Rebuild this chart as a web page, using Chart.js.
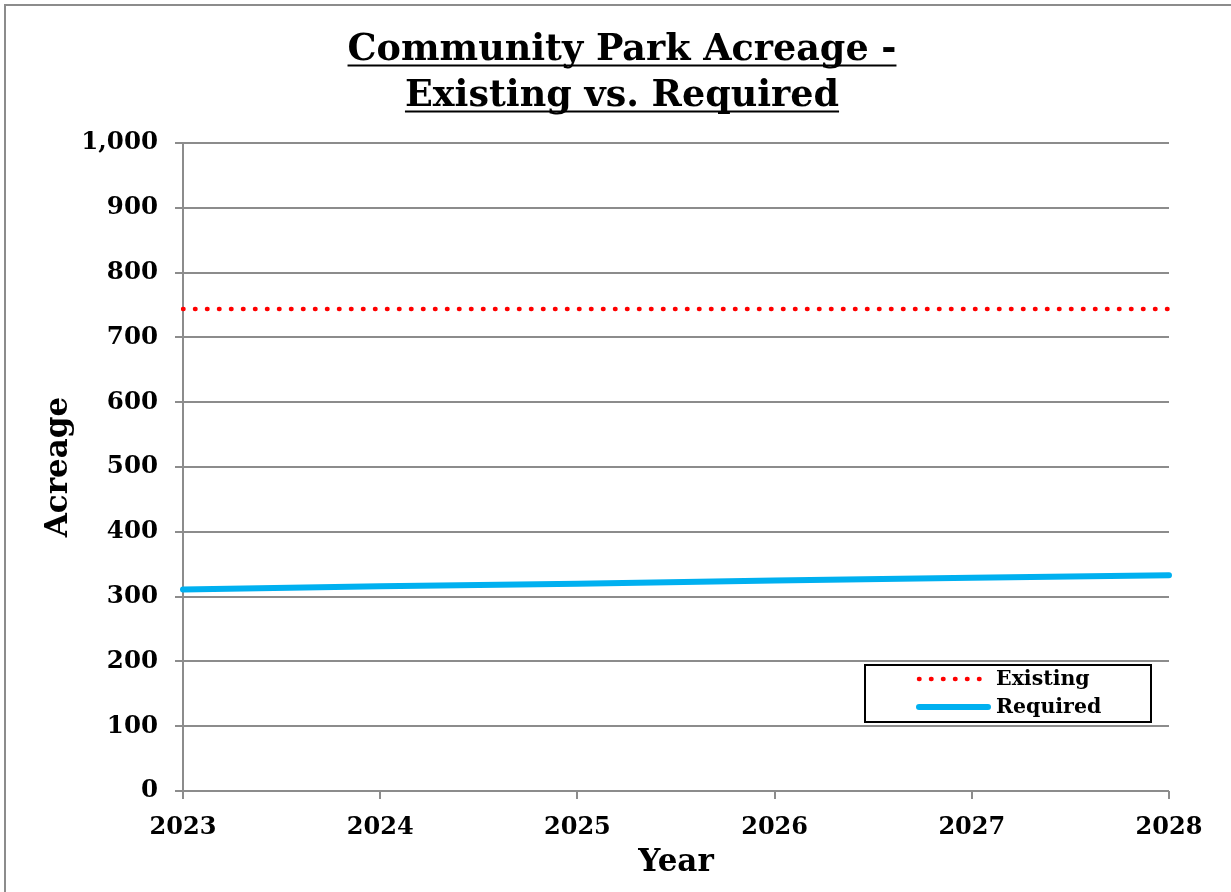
<!DOCTYPE html>
<html>
<head>
<meta charset="utf-8">
<title>Community Park Acreage</title>
<script src="https://cdn.jsdelivr.net/npm/chart.js@4.4.1/dist/chart.umd.min.js"></script>
<style>
  html, body { margin: 0; padding: 0; background: #fff; overflow: hidden; }
  #chart { display: block; }
</style>
</head>
<body>
<canvas id="chart" width="1231" height="892"></canvas>
<script>
// البيانات
const years = ['2023', '2024', '2025', '2026', '2027', '2028'];
const existingAcres = [744, 744, 744, 744, 744, 744];
const requiredAcres = [311, 316, 320, 325, 329, 333];
const titleLines = ['Community Park Acreage -', 'Existing vs. Required'];

const FONT = '"DejaVu Serif", Georgia, serif';
const GRID = '#8c8c8c';

// إطار الرسم الخارجي (يخرج من حدود الصورة يمينًا وأسفل)
const framePlugin = {
  id: 'outerFrame',
  beforeDraw(chart) {
    const ctx = chart.ctx;
    ctx.save();
    ctx.fillStyle = '#fff';
    ctx.fillRect(0, 0, chart.width, chart.height);
    ctx.strokeStyle = GRID;
    ctx.lineWidth = 2;
    ctx.beginPath();
    ctx.moveTo(5, chart.height + 5);
    ctx.lineTo(5, 5);
    ctx.lineTo(chart.width + 5, 5);
    ctx.stroke();
    ctx.restore();
  }
};

// العنوان مع خط تحته
const titlePlugin = {
  id: 'underlinedTitle',
  afterDraw(chart) {
    const ctx = chart.ctx;
    ctx.save();
    ctx.font = 'bold 36.5px ' + FONT;
    ctx.fillStyle = '#000';
    ctx.strokeStyle = '#000';
    ctx.lineWidth = 2;
    ctx.textAlign = 'center';
    ctx.textBaseline = 'alphabetic';
    const cx = 622;
    const baselines = [60, 106];
    titleLines.forEach((line, i) => {
      ctx.fillText(line, cx, baselines[i]);
      const w = ctx.measureText(line).width;
      ctx.beginPath();
      ctx.moveTo(cx - w / 2, baselines[i] + 5.5);
      ctx.lineTo(cx + w / 2, baselines[i] + 5.5);
      ctx.stroke();
    });
    ctx.restore();
  }
};

// وسيلة الإيضاح داخل مربع
const boxLegend = {
  id: 'boxLegend',
  afterDraw(chart) {
    const ctx = chart.ctx;
    const box = { x: 865, y: 665, w: 286, h: 57 };
    ctx.save();
    ctx.fillStyle = '#fff';
    ctx.fillRect(box.x, box.y, box.w, box.h);
    ctx.strokeStyle = '#000';
    ctx.lineWidth = 2;
    ctx.strokeRect(box.x, box.y, box.w, box.h);
    ctx.font = 'bold 20.5px ' + FONT;
    ctx.textBaseline = 'middle';
    ctx.fillStyle = '#000';
    chart.data.datasets.forEach((ds, i) => {
      const y = box.y + 14 + i * 28;
      ctx.save();
      ctx.strokeStyle = ds.borderColor;
      ctx.lineWidth = ds.borderWidth;
      ctx.lineCap = 'round';
      ctx.setLineDash(ds.borderDash || []);
      ctx.beginPath();
      ctx.moveTo(919, y);
      ctx.lineTo(988, y);
      ctx.stroke();
      ctx.restore();
      ctx.fillText(ds.label, 996, y + 1);
    });
    ctx.restore();
  }
};

new Chart(document.getElementById('chart'), {
  type: 'line',
  data: {
    labels: years,
    datasets: [
      {
        label: 'Existing',
        data: existingAcres,
        borderColor: '#ff0000',
        borderWidth: 4.5,
        borderDash: [0.5, 11.5],
        borderCapStyle: 'round',
        pointRadius: 0,
        tension: 0
      },
      {
        label: 'Required',
        data: requiredAcres,
        borderColor: '#00b0f0',
        borderWidth: 6,
        borderCapStyle: 'round',
        pointRadius: 0,
        tension: 0
      }
    ]
  },
  options: {
    responsive: false,
    animation: false,
    devicePixelRatio: 1,
    layout: { padding: { top: 143, right: 62, left: 0, bottom: 0 } },
    plugins: {
      legend: { display: false },
      title: { display: false },
      tooltip: { enabled: false }
    },
    scales: {
      x: {
        offset: false,
        afterFit(scale) { scale.height = 101; },
        grid: { drawOnChartArea: false, drawTicks: true, tickLength: 8, color: GRID, lineWidth: 2 },
        border: { display: false },
        ticks: { color: '#000', padding: 14, maxRotation: 0, font: { family: FONT, size: 24, weight: 'bold' } },
        title: { display: true, text: 'Year', color: '#000', padding: { bottom: 10 }, font: { family: FONT, size: 31, weight: 'bold' } }
      },
      y: {
        min: 0,
        max: 1000,
        afterFit(scale) { scale.width = 183; },
        grid: { color: GRID, lineWidth: 2, tickLength: 8 },
        border: { display: true, color: GRID, width: 2 },
        ticks: {
          stepSize: 100,
          color: '#000',
          padding: 17,
          font: { family: FONT, size: 24.5, weight: 'bold' },
          callback: (v) => v.toLocaleString('en-US')
        },
        title: { display: true, text: 'Acreage', color: '#000', padding: { top: 40 }, font: { family: FONT, size: 31, weight: 'bold' } }
      }
    }
  },
  plugins: [framePlugin, titlePlugin, boxLegend]
});
</script>
</body>
</html>
